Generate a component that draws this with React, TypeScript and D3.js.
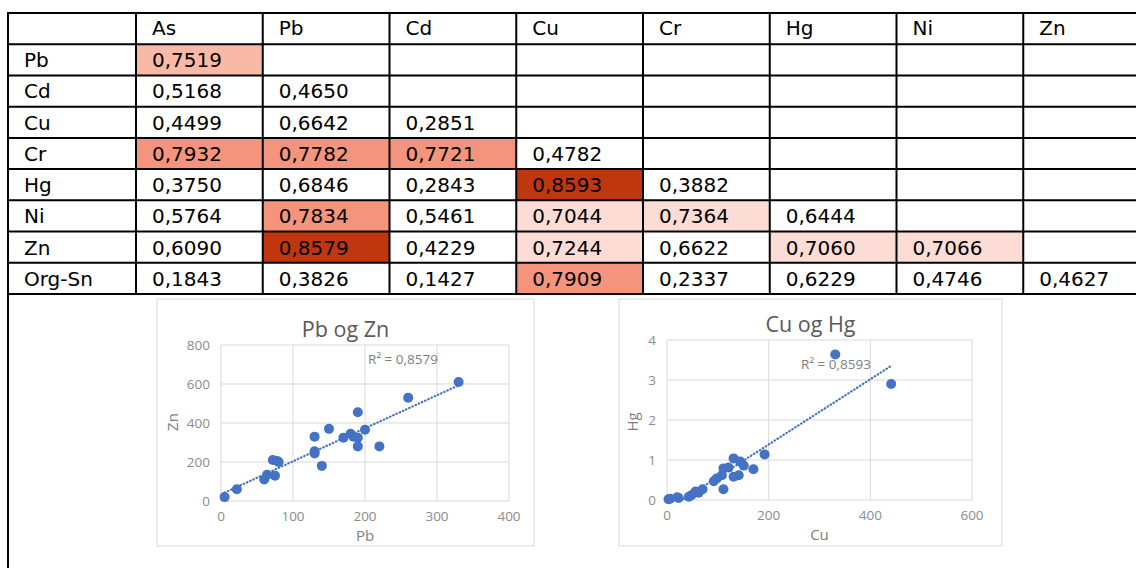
import * as d3 from "d3";

// correlation matrix (lower triangle)
const colLabels = ["As", "Pb", "Cd", "Cu", "Cr", "Hg", "Ni", "Zn"];
const rowLabels = ["Pb", "Cd", "Cu", "Cr", "Hg", "Ni", "Zn", "Org-Sn"];
const corrRows = [
  [0.7519],
  [0.5168, 0.465],
  [0.4499, 0.6642, 0.2851],
  [0.7932, 0.7782, 0.7721, 0.4782],
  [0.375, 0.6846, 0.2843, 0.8593, 0.3882],
  [0.5764, 0.7834, 0.5461, 0.7044, 0.7364, 0.6444],
  [0.609, 0.8579, 0.4229, 0.7244, 0.6622, 0.706, 0.7066],
  [0.1843, 0.3826, 0.1427, 0.7909, 0.2337, 0.6229, 0.4746, 0.4627],
];

// scatter: Pb vs Zn
const pbValues = [5, 22, 60, 64, 72, 78, 75, 80, 130, 130, 130, 140, 150, 170, 180, 184, 190, 190, 190, 200, 220, 260, 330];
const znValues = [20, 60, 110, 135, 210, 205, 130, 200, 330, 255, 244, 180, 370, 325, 345, 330, 455, 280, 325, 365, 280, 530, 610];

// scatter: Cu vs Hg
const cuValues = [3, 6, 20, 23, 43, 48, 56, 62, 70, 92, 98, 108, 111, 111, 121, 131, 131, 141, 144, 151, 170, 192, 331, 441];
const hgValues = [0.02, 0.03, 0.07, 0.05, 0.08, 0.12, 0.21, 0.18, 0.27, 0.47, 0.54, 0.62, 0.27, 0.79, 0.81, 1.04, 0.58, 0.62, 0.96, 0.86, 0.77, 1.14, 3.64, 2.9];

const pbTicks = [0, 100, 200, 300, 400];
const znTicks = [0, 200, 400, 600, 800];
const cuTicks = [0, 200, 400, 600];
const hgTicks = [0, 1, 2, 3, 4];

const fmt = (v: number) => v.toFixed(4).replace(".", ",");

const cellColor = d3
  .scaleThreshold<number, string>()
  .domain([0.7, 0.75, 0.77, 0.85])
  .range(["none", "#fcdcd4", "#f8b9a6", "#f4947c", "#c0360f"]);

const fit = (xs: number[], ys: number[]) => {
  const mx = d3.mean(xs)!;
  const my = d3.mean(ys)!;
  const sxy = d3.sum(xs, (x, i) => (x - mx) * (ys[i] - my));
  const sxx = d3.sum(xs, (x) => (x - mx) * (x - mx));
  const b = sxy / sxx;
  return { a: my - b * mx, b };
};

type ScatterProps = {
  id: string;
  box: { x: number; y: number; w: number; h: number };
  plot: { left: number; right: number; top: number; bottom: number };
  xs: number[];
  ys: number[];
  xTicks: number[];
  yTicks: number[];
  title: string;
  xTitle: string;
  yTitle: string;
  r2: string;
  r2Pos: [number, number];
  yTitlePos: [number, number];
};

const Scatter = (p: ScatterProps) => {
  const x = d3
    .scaleLinear()
    .domain(d3.extent(p.xTicks) as [number, number])
    .range([p.plot.left, p.plot.right]);
  const y = d3
    .scaleLinear()
    .domain(d3.extent(p.yTicks) as [number, number])
    .range([p.plot.bottom, p.plot.top]);
  const { a, b } = fit(p.xs, p.ys);
  const [x0, x1] = d3.extent(p.xs) as [number, number];
  const cx = (p.plot.left + p.plot.right) / 2;
  const font = "'Open Sans', sans-serif";

  return (
    <g>
      <rect x={p.box.x} y={p.box.y} width={p.box.w} height={p.box.h} fill="#fff" stroke="#d9d9d9" />
      <clipPath id={p.id}>
        <rect x={p.plot.left} y={p.plot.top} width={p.plot.right - p.plot.left} height={p.plot.bottom - p.plot.top} />
      </clipPath>
      {p.yTicks.map((t) => (
        <g key={"y" + t}>
          <line x1={p.plot.left} x2={p.plot.right} y1={y(t)} y2={y(t)} stroke="#d9d9d9" />
          <text x={p.plot.left - 11} y={y(t) + 5} textAnchor="end" fontSize={13.5} fill="#8c8c8c" fontFamily={font}>
            {t}
          </text>
        </g>
      ))}
      {p.xTicks.map((t) => (
        <g key={"x" + t}>
          <line x1={x(t)} x2={x(t)} y1={p.plot.top} y2={p.plot.bottom} stroke="#d9d9d9" />
          <text x={x(t)} y={p.plot.bottom + 20} textAnchor="middle" fontSize={13.5} fill="#8c8c8c" fontFamily={font}>
            {t}
          </text>
        </g>
      ))}
      {p.xs.map((v, i) => (
        <circle key={i} cx={x(v)} cy={y(p.ys[i])} r={5} fill="#4472c4" />
      ))}
      <line
        x1={x(x0)}
        y1={y(a + b * x0)}
        x2={x(x1)}
        y2={y(a + b * x1)}
        stroke="#4472c4"
        strokeWidth={2.2}
        strokeDasharray="0.5 3"
        strokeLinecap="round"
        clipPath={`url(#${p.id})`}
      />
      <text x={p.r2Pos[0]} y={p.r2Pos[1]} textAnchor="middle" fontSize={13.5} fill="#7f7f7f" fontFamily={font}>
        R² = {p.r2}
      </text>
      <text x={p.box.x + p.box.w / 2} y={p.plot.top - 8} textAnchor="middle" fontSize={21.5} fill="#595959" fontFamily={font}>
        {p.title}
      </text>
      <text x={cx} y={p.plot.bottom + 40} textAnchor="middle" fontSize={15} fill="#7f7f7f" fontFamily={font}>
        {p.xTitle}
      </text>
      <text
        transform={`translate(${p.yTitlePos[0]},${p.yTitlePos[1]}) rotate(-90)`}
        textAnchor="middle"
        fontSize={15}
        fill="#7f7f7f"
        fontFamily={font}
      >
        {p.yTitle}
      </text>
    </g>
  );
};

const App = () => {
  const width = 1136;
  const height = 568;
  const tableLeft = 8;
  const firstColRight = 136;
  const tableRight = 1150;
  const rowY = d3
    .scaleBand()
    .domain(["head", ...rowLabels])
    .range([13, 294]);
  const colX = d3.scaleBand().domain(colLabels).range([firstColRight, tableRight]);
  const rh = rowY.bandwidth();
  const cw = colX.bandwidth();
  const font = "'DejaVu Sans', Verdana, sans-serif";

  return (
    <svg width={width} height={height} style={{ position: "absolute", left: 0, top: 0, background: "#fff" }}>
      {/* colored cells */}
      {corrRows.map((row, i) =>
        row.map((v, j) => (
          <rect
            key={`c${i}-${j}`}
            x={colX(colLabels[j])}
            y={rowY(rowLabels[i])}
            width={cw}
            height={rh}
            fill={cellColor(v)}
          />
        ))
      )}
      {/* grid */}
      {["head", ...rowLabels].map((r) => (
        <line key={"h" + r} x1={tableLeft} x2={tableRight} y1={rowY(r)} y2={rowY(r)} stroke="#000" strokeWidth={2} />
      ))}
      <line x1={tableLeft} x2={tableRight} y1={294} y2={294} stroke="#000" strokeWidth={2} />
      <line x1={tableLeft} x2={tableLeft} y1={12} y2={height} stroke="#000" strokeWidth={2} />
      {colLabels.map((c) => (
        <line key={"v" + c} x1={colX(c)} x2={colX(c)} y1={12} y2={295} stroke="#000" strokeWidth={2} />
      ))}
      {/* header text */}
      {colLabels.map((c) => (
        <text key={"t" + c} x={colX(c)! + 16} y={rowY("head")! + 22} fontSize={20} fontFamily={font} fill="#000">
          {c}
        </text>
      ))}
      {rowLabels.map((r, i) => (
        <g key={"r" + r}>
          <text x={tableLeft + 16} y={rowY(r)! + 23} fontSize={20} fontFamily={font} fill="#000">
            {r}
          </text>
          {corrRows[i].map((v, j) => (
            <text key={j} x={colX(colLabels[j])! + 16} y={rowY(r)! + 23} fontSize={20} fontFamily={font} fill="#000">
              {fmt(v)}
            </text>
          ))}
        </g>
      ))}

      <Scatter
        id="clipA"
        box={{ x: 157, y: 299, w: 377, h: 247 }}
        plot={{ left: 221, right: 509, top: 345, bottom: 501 }}
        xs={pbValues}
        ys={znValues}
        xTicks={pbTicks}
        yTicks={znTicks}
        title="Pb og Zn"
        xTitle="Pb"
        yTitle="Zn"
        r2="0,8579"
        r2Pos={[403, 364]}
        yTitlePos={[178, 422]}
      />
      <Scatter
        id="clipB"
        box={{ x: 619, y: 299, w: 383, h: 247 }}
        plot={{ left: 667, right: 972, top: 340, bottom: 500 }}
        xs={cuValues}
        ys={hgValues}
        xTicks={cuTicks}
        yTicks={hgTicks}
        title="Cu og Hg"
        xTitle="Cu"
        yTitle="Hg"
        r2="0,8593"
        r2Pos={[836, 369]}
        yTitlePos={[638, 422]}
      />
    </svg>
  );
};

export default App;
